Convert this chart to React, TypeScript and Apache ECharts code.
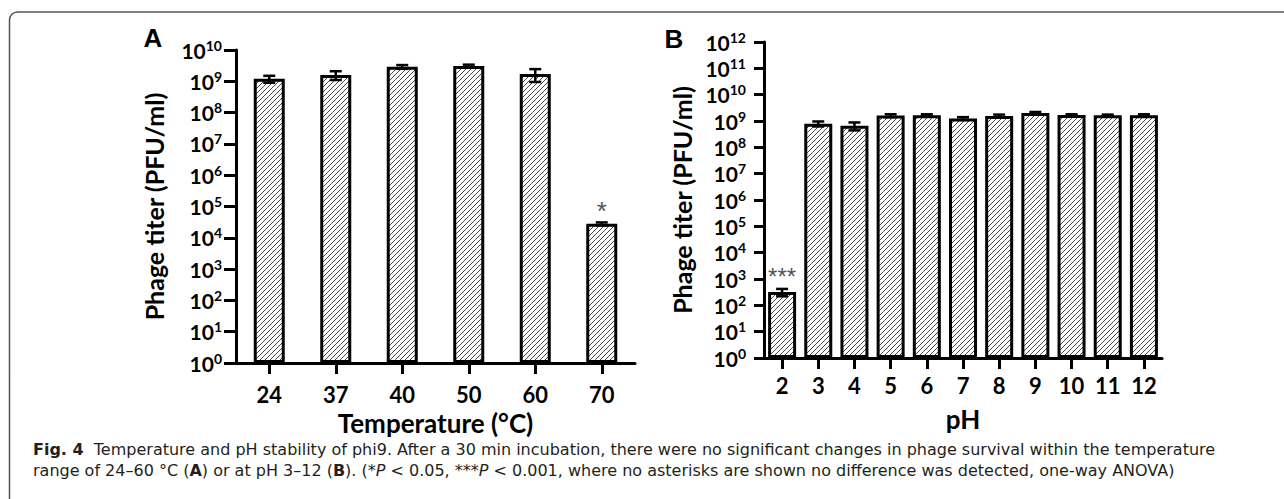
import React, { useEffect, useRef } from "react";
import * as echarts from "echarts";

const tempCats = ["24", "37", "40", "50", "60", "70"];
const tempMeans = [1.2e9, 1.6e9, 2.9e9, 3.1e9, 1.7e9, 2.8e4];
const tempErr = [0.3e9, 0.5e9, 0.4e9, 0.3e9, 0.75e9, 0.3e4];
const tempSig = ["", "", "", "", "", "*"];

const phCats = ["2", "3", "4", "5", "6", "7", "8", "9", "10", "11", "12"];
const phMeans = [320, 7.9e8, 6.6e8, 1.6e9, 1.65e9, 1.25e9, 1.55e9, 2.0e9, 1.7e9, 1.65e9, 1.65e9];
const phErr = [100, 1.7e8, 2.2e8, 0.2e9, 0.15e9, 0.15e9, 0.2e9, 0.2e9, 0.1e9, 0.1e9, 0.15e9];
const phSig = ["***", "", "", "", "", "", "", "", "", "", ""];

// exponent range of the log axes (10^0 .. 10^max)
const tempExpMax = 10;
const phExpMax = 12;

const caption =
  "{b|Fig. 4}  Temperature and pH stability of phi9. After a 30 min incubation, there were no significant changes in phage survival within the temperature\n" +
  "range of 24–60 °C ({b|A}) or at pH 3–12 ({b|B}). (*{i|P} < 0.05, ***{i|P} < 0.001, where no asterisks are shown no difference was detected, one-way ANOVA)";

const FONT = 'Lato, "Open Sans", sans-serif';
const CAP_FONT = '"DejaVu Sans", "Open Sans", sans-serif';

const hatchSvg =
  "<svg xmlns='http://www.w3.org/2000/svg' width='5' height='5'>" +
  "<rect width='5' height='5' fill='white'/>" +
  "<path d='M-1,6 L6,-1 M-1,1 L1,-1 M4,6 L6,4' stroke='#333' stroke-width='0.9'/></svg>";
const hatchUrl = "data:image/svg+xml;charset=utf-8," + encodeURIComponent(hatchSvg);

function logLabel(v: number) {
  return "{a|10}{s|" + Math.round(v) + "}";
}

const labelRich = {
  a: { fontSize: 21, fontWeight: "bold", fontFamily: FONT, color: "#000", lineHeight: 24 },
  s: { fontSize: 14, fontWeight: "bold", fontFamily: FONT, color: "#000", verticalAlign: "top", lineHeight: 14, padding: [0, 0, 12, 0] },
};

function yAxis(gridIndex: number, max: number, margin: number, tickLen: number, nameGap: number) {
  return {
    type: "value",
    gridIndex,
    min: 0,
    max,
    interval: 1,
    axisLine: { show: true, lineStyle: { color: "#000", width: 3 } },
    axisTick: { show: true, length: tickLen, lineStyle: { color: "#000", width: 3 } },
    axisLabel: { margin, formatter: logLabel, rich: labelRich },
    splitLine: { show: false },
    name: "Phage titer (PFU/ml)",
    nameLocation: "middle",
    nameRotate: 90,
    nameGap,
    nameTextStyle: { fontSize: 25, fontWeight: "bold", fontFamily: FONT, color: "#000" },
  };
}

function xAxis(gridIndex: number, data: string[], name: string, margin: number, nameGap: number) {
  return {
    type: "category",
    gridIndex,
    data,
    axisLine: { show: true, lineStyle: { color: "#000", width: 3 } },
    axisTick: { show: true, alignWithLabel: true, length: 11, lineStyle: { color: "#000", width: 3 } },
    axisLabel: { margin, fontSize: 22, fontWeight: "bold", fontFamily: FONT, color: "#000", interval: 0 },
    name,
    nameLocation: "middle",
    nameGap,
    nameTextStyle: { fontSize: 26, fontWeight: "bold", fontFamily: FONT, color: "#000" },
  };
}

function barSeries(idx: number, means: number[], sig: string[], barWidth: number, labelDist: number, sigSize: number) {
  return {
    type: "bar",
    xAxisIndex: idx,
    yAxisIndex: idx,
    data: means.map((m) => Math.log10(m)),
    barWidth,
    itemStyle: {
      color: { image: hatchUrl, repeat: "repeat", imageWidth: 5, imageHeight: 5 },
      borderColor: "#000",
      borderWidth: 3,
    },
    label: {
      show: true,
      position: "top",
      distance: labelDist,
      formatter: (p: any) => sig[p.dataIndex],
      color: "#555",
      fontSize: sigSize,
      fontFamily: '"Liberation Sans", Arial, sans-serif',
    },
    z: 2,
  };
}

function errSeries(idx: number, means: number[], errs: number[], capHalf: number) {
  return {
    type: "custom",
    xAxisIndex: idx,
    yAxisIndex: idx,
    z: 3,
    data: means.map((m, i) => [i, Math.log10(m), Math.log10(m + errs[i]), Math.log10(m - errs[i])]),
    encode: { x: 0, y: 1 },
    renderItem: (params: any, api: any) => {
      const x = api.value(0);
      const hi = api.coord([x, api.value(2)]);
      const lo = api.coord([x, api.value(3)]);
      const st = { stroke: "#000", lineWidth: 2.5 };
      return {
        type: "group",
        children: [
          { type: "line", shape: { x1: hi[0], y1: hi[1], x2: lo[0], y2: lo[1] }, style: st },
          { type: "line", shape: { x1: hi[0] - capHalf, y1: hi[1], x2: hi[0] + capHalf, y2: hi[1] }, style: st },
          { type: "line", shape: { x1: lo[0] - capHalf, y1: lo[1], x2: lo[0] + capHalf, y2: lo[1] }, style: st },
        ],
      };
    },
  };
}

export default function App() {
  const ref = useRef<HTMLDivElement>(null);
  useEffect(() => {
    if (!ref.current) return;
    const chart = echarts.init(ref.current, null, { renderer: "svg" });
    const capStyle = { fontSize: 16, fontFamily: CAP_FONT, fill: "#231f20", lineHeight: 21 };
    const option: any = {
      animation: false,
      backgroundColor: "#fff",
      grid: [
        { left: 236, top: 50, width: 399, height: 313 },
        { left: 764, top: 42, width: 398, height: 316 },
      ],
      xAxis: [
        xAxis(0, tempCats, "Temperature (°C)", 20, 45),
        xAxis(1, phCats, "pH", 16, 48),
      ],
      yAxis: [yAxis(0, tempExpMax, 14, 12, 70), yAxis(1, phExpMax, 18, 10, 70)],
      series: [
        barSeries(0, tempMeans, tempSig, 31, 0, 26),
        errSeries(0, tempMeans, tempErr, 6),
        barSeries(1, phMeans, phSig, 28, 4, 24),
        errSeries(1, phMeans, phErr, 6),
      ],
      graphic: [
        {
          type: "rect",
          shape: { x: 9.5, y: 12, width: 1300, height: 520, r: 8 },
          style: { fill: "none", stroke: "#555", lineWidth: 1.5 },
          silent: true,
        },
        {
          type: "text",
          x: 153,
          y: 38,
          style: { text: "A", font: 'bold 26px "Liberation Sans", Arial, sans-serif', fill: "#000", align: "center", verticalAlign: "middle" },
        },
        {
          type: "text",
          x: 674,
          y: 39,
          style: { text: "B", font: 'bold 26px "Liberation Sans", Arial, sans-serif', fill: "#000", align: "center", verticalAlign: "middle" },
        },
        {
          type: "text",
          x: 33,
          y: 460,
          style: {
            text: caption,
            ...capStyle,
            verticalAlign: "middle",
            rich: {
              b: { ...capStyle, fontWeight: "bold" },
              i: { ...capStyle, fontStyle: "italic" },
            },
          },
        },
      ],
    };
    chart.setOption(option);
    return () => chart.dispose();
  }, []);
  return <div ref={ref} style={{ position: "absolute", left: 0, top: 0, width: 1284, height: 499 }} />;
}
